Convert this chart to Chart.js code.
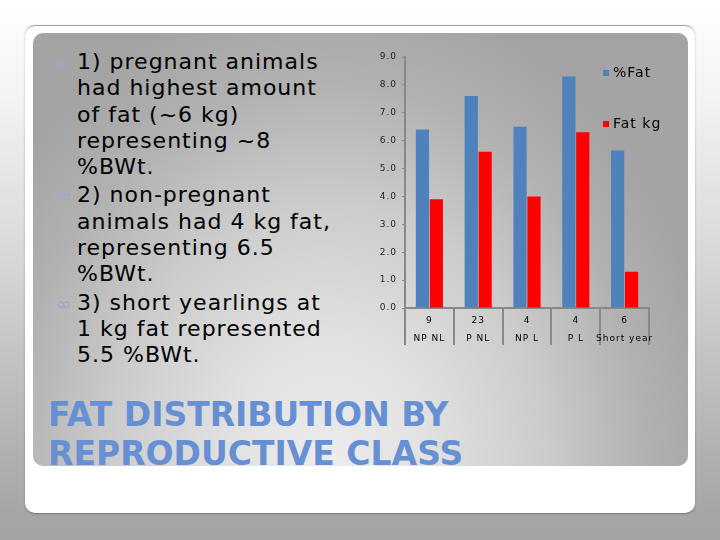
<!DOCTYPE html>
<html>
<head>
<meta charset="utf-8">
<script src="https://cdn.jsdelivr.net/npm/chart.js@4.4.0/dist/chart.umd.min.js"></script>
<style>
    html, body { margin: 0; padding: 0; }
    body {
        width: 720px; height: 540px; overflow: hidden; position: relative;
        background: linear-gradient(to bottom, #ffffff 0%, #f3f3f3 18%, #dadada 45%, #bdbdbd 72%, #a6a6a6 95%, #a3a3a3 100%);
        font-family: "DejaVu Sans", Verdana, sans-serif;
    }
    #card {
        position: absolute; left: 25px; top: 25px; width: 670px; height: 487px;
        background: #fff; border-radius: 10px; border-top: 1px solid #a0a0a0;
        box-shadow: 0 1px 2px rgba(0,0,0,0.3);
    }
    #panel {
        position: absolute; left: 33px; top: 33px; width: 655px; height: 433px;
        border-radius: 10px;
        background: radial-gradient(ellipse 60% 110% at 45% 100%, #ececec 0%, #e2e2e2 25%, #cccccc 55%, #b2b2b2 80%, #a4a4a4 100%);
    }
    #bullets {
        position: absolute; left: 77px; top: 49px;
        font-size: 22px; line-height: 26.3px; letter-spacing: 1px; color: #000;
        white-space: nowrap;
    }
    #bullets p { margin: 0 0 2px 0; position: relative; }
    #bullets .b {
        position: absolute; left: -21px; top: 1px;
        font-size: 18px; color: #94aad3; letter-spacing: 0;
    }
    #title {
        position: absolute; left: 48px; top: 396px;
        font-weight: bold; font-size: 33px; line-height: 38.5px;
        color: #6790d4; white-space: nowrap;
    }
    #chartBox { position: absolute; left: 360px; top: 40px; width: 320px; height: 320px; }
</style>
</head>
<body>
<div id="card"></div>
<div id="panel"></div>
<div id="bullets">
    <p><span class="b">∞</span>1) pregnant animals<br>had highest amount<br>of fat (~6 kg)<br>representing ~8<br>%BWt.</p>
    <p><span class="b">∞</span>2) non-pregnant<br>animals had 4 kg fat,<br>representing 6.5<br>%BWt.</p>
    <p><span class="b">∞</span>3) short yearlings at<br>1 kg fat represented<br>5.5 %BWt.</p>
</div>
<div id="title">FAT DISTRIBUTION BY<br>REPRODUCTIVE CLASS</div>
<div id="chartBox"><canvas id="fatChart"></canvas></div>

<script>
// Dane z wykresu
const classes = ['NP NL', 'P NL', 'NP L', 'P L', 'Short year'];
const counts = ['9', '23', '4', '4', '6'];
const pctFat = [6.4, 7.6, 6.5, 8.3, 5.65];
const fatKg = [3.9, 5.6, 4.0, 6.3, 1.3];
const yMin = 0;
const yMax = 9;
const yStep = 1;

// Odstęp między literami jak w oryginale
const letterSpacing = {
    id: 'letterSpacing',
    beforeLayout(chart) { chart.ctx.letterSpacing = '1px'; },
    beforeDraw(chart) { chart.ctx.letterSpacing = '1px'; }
};

// Legenda wewnątrz wykresu, po prawej
const sideLegend = {
    id: 'sideLegend',
    afterDraw(chart, args, opts) {
        const ctx = chart.ctx;
        ctx.save();
        ctx.letterSpacing = '1px';
        ctx.font = opts.font;
        ctx.textBaseline = 'middle';
        ctx.textAlign = 'left';
        chart.data.datasets.forEach((ds, i) => {
            const y = opts.top + i * opts.gap;
            ctx.fillStyle = ds.backgroundColor;
            ctx.fillRect(opts.left, y - 3, 6, 6);
            ctx.fillStyle = '#000';
            ctx.fillText(ds.label, opts.left + 10, y);
        });
        ctx.restore();
    }
};

const labels = classes.map((c, i) => [counts[i], c]);

new Chart(document.getElementById('fatChart'), {
    type: 'bar',
    data: {
        labels: labels,
        datasets: [
            { label: '%Fat', data: pctFat, backgroundColor: '#4f81bd' },
            { label: 'Fat kg', data: fatKg, backgroundColor: '#ff0000' }
        ]
    },
    options: {
        responsive: true,
        maintainAspectRatio: false,
        animation: false,
        categoryPercentage: 0.57,
        barPercentage: 0.95,
        layout: { padding: { left: 0, top: 17, right: 31, bottom: 12 } },
        plugins: {
            legend: { display: false },
            tooltip: { enabled: false },
            sideLegend: { left: 243, top: 33, gap: 51, font: '14px "DejaVu Sans"' }
        },
        scales: {
            x: {
                afterFit: scale => { scale.height = 40; },
                border: { display: true, color: '#888', width: 2 },
                grid: {
                    offset: true, drawOnChartArea: false, drawTicks: true,
                    tickLength: 37, color: '#888', lineWidth: 2
                },
                ticks: {
                    color: '#000', autoSkip: false, maxRotation: 0,
                    padding: -34,
                    font: { family: 'DejaVu Sans', size: 9, lineHeight: 2.08 }
                }
            },
            y: {
                min: yMin, max: yMax,
                afterFit: scale => { scale.width = 45; },
                border: { display: true, color: '#888', width: 2 },
                grid: { drawOnChartArea: false, tickLength: 3, color: '#888', lineWidth: 1 },
                ticks: {
                    stepSize: yStep, color: '#1e1e1e', padding: 5,
                    font: { family: 'DejaVu Sans', size: 9 },
                    callback: v => v.toFixed(1)
                }
            }
        }
    },
    plugins: [letterSpacing, sideLegend]
});
</script>
</body>
</html>
